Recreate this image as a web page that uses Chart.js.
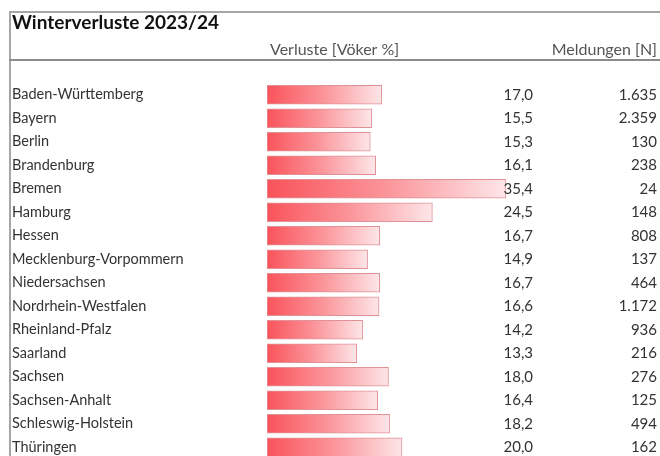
<!DOCTYPE html>
<html>
<head>
<meta charset="utf-8">
<script src="https://cdn.jsdelivr.net/npm/chart.js@4"></script>
<style>
  html, body { margin: 0; padding: 0; background: #fff; overflow: hidden; }
  #wrap { width: 660px; height: 456px; overflow: hidden; }
</style>
</head>
<body>
<div id="wrap"><canvas id="verluste" width="660" height="460"></canvas></div>
<script>
var laender = ['Baden-Württemberg', 'Bayern', 'Berlin', 'Brandenburg', 'Bremen', 'Hamburg', 'Hessen',
  'Mecklenburg-Vorpommern', 'Niedersachsen', 'Nordrhein-Westfalen', 'Rheinland-Pfalz', 'Saarland',
  'Sachsen', 'Sachsen-Anhalt', 'Schleswig-Holstein', 'Thüringen'];
var verluste = [17.0, 15.5, 15.3, 16.1, 35.4, 24.5, 16.7, 14.9, 16.7, 16.6, 14.2, 13.3, 18.0, 16.4, 18.2, 20.0];
var meldungen = [1635, 2359, 130, 238, 24, 148, 808, 137, 464, 1172, 936, 216, 276, 125, 494, 162];

var titel = 'Winterverluste 2023/24';
var kopfVerluste = 'Verluste [Vöker %]';
var kopfMeldungen = 'Meldungen [N]';

var FONT = 'Lato, "Open Sans", sans-serif';

function komma(v) { return v.toFixed(1).replace('.', ','); }
function tausend(n) { return String(n).replace(/\B(?=(\d{3})+(?!\d))/g, '.'); }

// table frame, title, headers and the two number columns
var tabelle = {
  id: 'tabelle',
  beforeDraw: function(chart) {
    var c = chart.ctx;
    c.save();
    c.strokeStyle = '#a6a6a6';
    c.lineWidth = 2;
    c.beginPath();
    c.moveTo(9, 12); c.lineTo(660, 12);
    c.moveTo(10, 12); c.lineTo(10, 460);
    c.stroke();
    c.strokeStyle = '#8c8c8c';
    c.beginPath();
    c.moveTo(9, 60); c.lineTo(660, 60);
    c.stroke();

    c.textBaseline = 'middle';
    c.fillStyle = '#111';
    c.font = 'bold 19px ' + FONT;
    c.textAlign = 'left';
    c.fillText(titel, 12, 23);

    c.fillStyle = '#555';
    c.font = '16px ' + FONT;
    c.fillText(kopfVerluste, 270, 50);
    c.textAlign = 'right';
    c.fillText(kopfMeldungen, 657, 50);
    c.restore();
  },
  afterDatasetsDraw: function(chart) {
    var c = chart.ctx;
    var y = chart.scales.y;
    c.save();
    c.fillStyle = '#333';
    c.font = '15px ' + FONT;
    c.textAlign = 'right';
    c.textBaseline = 'middle';
    for (var i = 0; i < laender.length; i++) {
      var py = y.getPixelForValue(i);
      c.fillText(komma(verluste[i]), 533, py);
      c.fillText(tausend(meldungen[i]), 657, py);
    }
    c.restore();
  }
};

var ctx = document.getElementById('verluste');
var chart = new Chart(ctx, {
  type: 'bar',
  data: {
    labels: laender,
    datasets: [{
      data: verluste,
      backgroundColor: function(context) {
        var ch = context.chart;
        if (!ch.chartArea || !ch.scales.x) return '#f9555b';
        var x0 = ch.scales.x.getPixelForValue(0);
        var x1 = ch.scales.x.getPixelForValue(context.raw);
        var g = ch.ctx.createLinearGradient(x0, 0, x1, 0);
        g.addColorStop(0, '#f9535a');
        g.addColorStop(0.5, '#fb959a');
        g.addColorStop(1, '#fde6e8');
        return g;
      },
      borderColor: 'rgba(215, 110, 115, 0.75)',
      borderWidth: 1,
      borderSkipped: false,
      barThickness: 19
    }]
  },
  options: {
    indexAxis: 'y',
    responsive: false,
    animation: false,
    layout: { padding: { left: 12, top: 83, right: 123, bottom: 1 } },
    plugins: {
      legend: { display: false },
      tooltip: { enabled: false }
    },
    scales: {
      x: { display: false, min: 0, max: 40 },
      y: {
        grid: { display: false },
        border: { display: false },
        ticks: {
          color: '#333',
          font: { family: FONT, size: 14.5 },
          crossAlign: 'far',
          padding: 0
        },
        afterFit: function(scale) {
          scale.width = 255;
          scale.paddingTop = 0;
          scale.paddingBottom = 0;
        }
      }
    }
  },
  plugins: [tabelle]
});
</script>
</body>
</html>
